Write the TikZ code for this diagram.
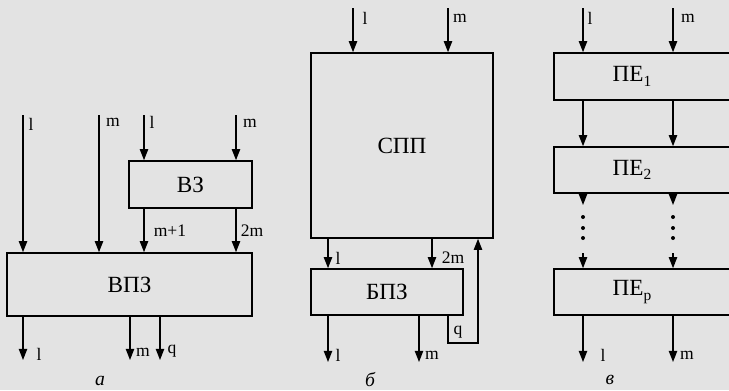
\documentclass[tikz,border=0pt]{standalone}
\usepackage{fontspec}
\setmainfont{Liberation Serif}
\usetikzlibrary{arrows.meta}
\definecolor{PaperClr}{rgb}{0.89,0.89,0.89}
\newcommand\pxu{0.025cm}
\newcommand\idx[1]{\raisebox{-0.4ex}{\fontsize{11}{11}\selectfont #1}}

\begin{document}
\begin{tikzpicture}[x=0.025cm,y=-0.025cm,line width=1pt,
  >={Triangle[length=2.8mm,width=2.1mm]},
  blk/.style={draw,line width=1.1pt,inner sep=0pt,font=\fontsize{16.5}{18}\selectfont},
  txt/.style={inner sep=0pt,font=\fontsize{16.5}{18}\selectfont},
  lbl/.style={inner sep=1pt,font=\fontsize{12.5}{14}\selectfont},
  figcap/.style={inner sep=1pt,font=\fontsize{14}{16}\selectfont\itshape}]
\fill[PaperClr] (0,0) rectangle (729,390);
\useasboundingbox (0,0) rectangle (729,390);
\clip (0,0) rectangle (729,390);

\node[blk,minimum width=123*\pxu,minimum height=47*\pxu] (vz) at (190.5,184.5) {ВЗ};
\node[blk,minimum width=245*\pxu,minimum height=63*\pxu] (vpz) at (129.5,284.5) {ВПЗ};
\coordinate (aL) at (23,115);
\coordinate (aM) at (99,115);
\coordinate (vzL) at (144,115);
\coordinate (vzM) at (236,115);
\coordinate (aOl) at (23,360);
\coordinate (aOm) at (130,360);
\coordinate (aOq) at (160,360);
\draw[->] (aL) -- (aL |- vpz.north);
\draw[->] (aM) -- (aM |- vpz.north);
\draw[->] (vzL) -- (vzL |- vz.north);
\draw[->] (vzM) -- (vzM |- vz.north);
\draw[->] (vzL |- vz.south) -- (vzL |- vpz.north);
\draw[->] (vzM |- vz.south) -- (vzM |- vpz.north);
\draw[->] (aOl |- vpz.south) -- (aOl);
\draw[->] (aOm |- vpz.south) -- (aOm);
\draw[->] (aOq |- vpz.south) -- (aOq);
\node[lbl] (la1) at (31,124) {l};
\node[lbl] (la2) at (113,122) {m};
\node[lbl] (la3) at (152,122) {l};
\node[lbl] (la4) at (250,123) {m};
\node[lbl] (la5) at (170,231) {m+1};
\node[lbl] (la6) at (252,231) {2m};
\node[lbl] (la7) at (39,354) {l};
\node[lbl] (la8) at (143,352) {m};
\node[lbl] (la9) at (172,351) {q};
\node[figcap] (capa) at (100,381) {а};

\node[blk,minimum width=182*\pxu,minimum height=185*\pxu] (spp) at (402,145.5) {СПП};
\node[blk,minimum width=152*\pxu,minimum height=46*\pxu] (bpz) at (387,292) {БПЗ};
\coordinate (bL) at (353,8);
\coordinate (bM) at (448,8);
\coordinate (bOl) at (328,362);
\coordinate (bOm) at (419,362);
\coordinate (bQ) at (478,343);
\draw[->] (bL) -- (bL |- spp.north);
\draw[->] (bM) -- (bM |- spp.north);
\draw[->] (bOl |- spp.south) -- (bOl |- bpz.north);
\draw[->] (432,0 |- spp.south) -- (432,0 |- bpz.north);
\draw[->] (bOl |- bpz.south) -- (bOl);
\draw[->] (bOm |- bpz.south) -- (bOm);
\draw[->] (448,0 |- bpz.south) |- (bQ) -- (bQ |- spp.south);
\node[lbl] (lb1) at (365,18) {l};
\node[lbl] (lb2) at (460,18) {m};
\node[lbl] (lb3) at (338,258) {l};
\node[lbl] (lb4) at (453,258) {2m};
\node[lbl] (lb5) at (338,355) {l};
\node[lbl] (lb6) at (432,355) {m};
\node[lbl] (lb7) at (458,332) {q};
\node[figcap] (capb) at (370,380) {б};

\node[blk,minimum width=200*\pxu,minimum height=47*\pxu,anchor=west] (pe1) at (553,76.5) {};
\node[blk,minimum width=200*\pxu,minimum height=46*\pxu,anchor=west] (pe2) at (553,170) {};
\node[blk,minimum width=200*\pxu,minimum height=46*\pxu,anchor=west] (pep) at (553,292) {};
\node[txt] (pe1t) at (632,76.5) {ПЕ\idx{1}};
\node[txt] (pe2t) at (632,170) {ПЕ\idx{2}};
\node[txt] (pept) at (632,292) {ПЕ\idx{p}};
\foreach \x/\n in {583/l,673/m}{
  \coordinate (cIn\n) at (\x,8);
  \coordinate (cOut\n) at (\x,362);
  \draw[->] (cIn\n) -- (cIn\n |- pe1.north);
  \draw[->] (cIn\n |- pe1.south) -- (cIn\n |- pe2.north);
  \draw[->] (cIn\n |- pe2.south) -- (\x,205);
  \foreach \y in {217,228,238} \fill (\x,\y) circle (2);
  \draw[->] (\x,253) -- (cIn\n |- pep.north);
  \draw[->] (cIn\n |- pep.south) -- (cOut\n);
}
\node[lbl] (lc1) at (590,18) {l};
\node[lbl] (lc2) at (688,18) {m};
\node[lbl] (lc3) at (603,355) {l};
\node[lbl] (lc4) at (687,355) {m};
\node[figcap] (capc) at (610,380) {в};
\end{tikzpicture}
\end{document}
